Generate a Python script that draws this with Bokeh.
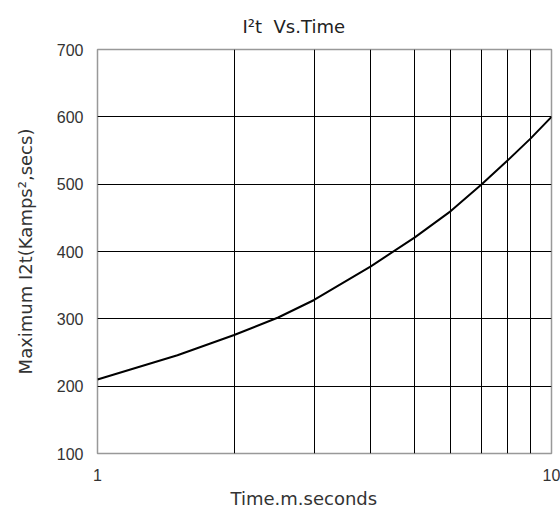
from bokeh.plotting import figure
from bokeh.models import FixedTicker, Title
from bokeh.embed import file_html
from bokeh.resources import INLINE

# Data
time_ms = [1, 1.5, 2, 2.5, 3, 4, 5, 6, 7, 8, 9, 10]
i2t_max = [210, 246, 276, 302, 328, 378, 421, 460, 499, 535, 568, 600]
y_ticks = [100, 200, 300, 400, 500, 600, 700]
x_ticks = [1, 10]
x_tick_labels = {1: "1", 10: "10"}
x_grid = [2, 3, 4, 5, 6, 7, 8, 9]

p = figure(width=560, height=512, x_axis_type="log", x_range=(1, 10), y_range=(100, 700),
           output_backend="svg", toolbar_location=None,
           min_border_left=97, min_border_right=9, min_border_top=48, min_border_bottom=59)

p.title = Title(text="I²t\u00a0\u00a0Vs.Time", align="left", offset=145, standoff=26,
                text_font="DejaVu Sans", text_font_size="18px",
                text_font_style="normal", text_color="#222222")

p.line(time_ms, i2t_max, line_color="black", line_width=2)

p.xaxis.ticker = FixedTicker(ticks=x_ticks)
p.xaxis.major_label_overrides = x_tick_labels
p.yaxis.ticker = FixedTicker(ticks=y_ticks)
p.xgrid.ticker = FixedTicker(ticks=x_grid)
p.ygrid.ticker = FixedTicker(ticks=y_ticks[1:-1])
for g in (p.xgrid, p.ygrid):
    g.grid_line_color = "black"
    g.grid_line_width = 1
    g.grid_line_alpha = 1.0

for ax in (p.xaxis, p.yaxis):
    ax.axis_line_color = None
    ax.major_tick_out = 0
    ax.major_tick_in = 0
    ax.minor_tick_out = 0
    ax.minor_tick_in = 0
    ax.major_label_text_font = "Liberation Sans"
    ax.major_label_text_font_size = "16px"
    ax.major_label_text_color = "#333333"
    ax.axis_label_text_font = "DejaVu Sans"
    ax.axis_label_text_font_size = "18px"
    ax.axis_label_text_font_style = "normal"
    ax.axis_label_text_color = "#333333"

p.xaxis.major_label_standoff = 15
p.yaxis.axis_label = "Maximum I2t(Kamps²,secs)"
p.yaxis.major_label_standoff = 14
p.yaxis.axis_label_standoff = 18

xlabel = Title(text="Time.m.seconds", align="left", offset=133, standoff=5,
               text_font="DejaVu Sans", text_font_size="18px",
               text_font_style="normal", text_color="#333333")
p.add_layout(xlabel, "below")

p.outline_line_color = "#999999"
p.outline_line_width = 1.5
p.background_fill_color = "white"
p.border_fill_color = "white"

open("out.html", "w").write(file_html(p, INLINE))
